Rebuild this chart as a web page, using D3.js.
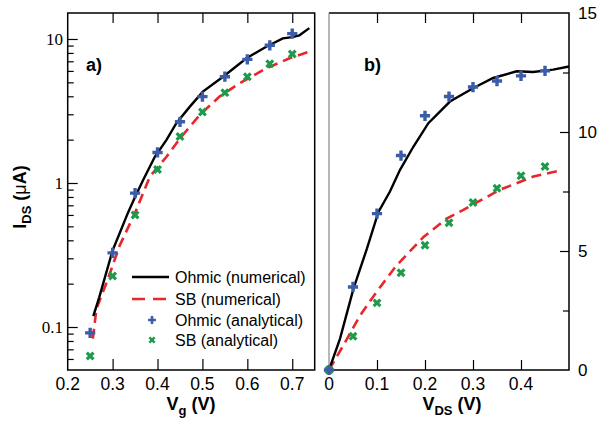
<!DOCTYPE html>
<html lang="en">
<head>
  <meta charset="UTF-8">
  <title>Ohmic vs SB contacts</title>
  <script src="https://d3js.org/d3.v7.min.js"></script>
  <style>
    body { margin: 0; background: #fff; }
    svg { display: block; font-family: Arial, "Liberation Sans", Helvetica, sans-serif; }
    .tick line { stroke: #000; stroke-width: 1.2; }
  </style>
</head>
<body>
  <svg width="602" height="424"></svg>

  <script>
    // ---- panel a: I_DS vs Vg (log scale) ----
    const vgPts = [0.25, 0.30, 0.35, 0.40, 0.45, 0.50, 0.55, 0.60, 0.65, 0.70];
    const ohmicAnaA = [0.091, 0.327, 0.85, 1.63, 2.66, 3.98, 5.47, 7.22, 9.04, 10.9];
    const sbAnaA = [0.063, 0.226, 0.60, 1.24, 2.10, 3.11, 4.24, 5.47, 6.74, 7.87];

    const ohmicNumA = [
      [0.257, 0.119], [0.27, 0.16], [0.30, 0.34], [0.335, 0.63], [0.35, 0.80],
      [0.368, 1.05], [0.394, 1.52], [0.42, 1.99], [0.442, 2.60], [0.472, 3.39],
      [0.501, 4.31], [0.546, 5.47], [0.598, 7.35], [0.642, 8.83], [0.679, 10.1],
      [0.70, 10.3], [0.716, 10.6], [0.738, 11.9]
    ];
    const sbNumA = [
      [0.256, 0.083], [0.264, 0.134], [0.287, 0.205], [0.316, 0.37], [0.35, 0.62],
      [0.383, 1.11], [0.42, 1.52], [0.45, 2.04], [0.494, 2.97], [0.538, 3.98],
      [0.583, 4.93], [0.642, 6.25], [0.694, 7.35], [0.738, 8.17]
    ];

    // ---- panel b: I_DS vs V_DS (linear) ----
    const vdsPts = [0, 0.05, 0.10, 0.15, 0.20, 0.25, 0.30, 0.35, 0.40, 0.45];
    const ohmicAnaB = [0, 3.49, 6.57, 9.01, 10.68, 11.49, 11.89, 12.14, 12.36, 12.57];
    const sbAnaB = [0, 1.42, 2.82, 4.09, 5.24, 6.19, 7.04, 7.64, 8.16, 8.55];

    const ohmicNumB = [
      [0, 0], [0.023, 1.32], [0.051, 3.42], [0.079, 5.10], [0.103, 6.64],
      [0.127, 7.50], [0.148, 8.41], [0.176, 9.39], [0.207, 10.37], [0.252, 11.28],
      [0.301, 11.85], [0.342, 12.27], [0.391, 12.55], [0.425, 12.52], [0.467, 12.62],
      [0.50, 12.75]
    ];
    const sbNumB = [
      [0, 0], [0.030, 1.04], [0.065, 2.30], [0.099, 3.28], [0.141, 4.40],
      [0.197, 5.59], [0.245, 6.36], [0.280, 6.73], [0.356, 7.57], [0.426, 8.13],
      [0.481, 8.38]
    ];

    const legendLabels = ["Ohmic (numerical)", "SB (numerical)", "Ohmic (analytical)", "SB (analytical)"];

    const blue = "#3d5ca8", green = "#1e9a4c", red = "#e8262b";

    const svg = d3.select("svg");

    const yTop = 13, yBot = 370;
    const xA = d3.scaleLinear().domain([0.2, 0.75]).range([67.7, 314.7]);
    const yA = d3.scaleLog().domain([0.0503, 15.15]).range([yBot, yTop]);
    const xB = d3.scaleLinear().domain([0, 0.5]).range([329, 569]);
    const yB = d3.scaleLinear().domain([0, 15]).range([yBot, yTop]);

    const plus = d3.symbol().type(d3.symbolCross).size(58);
    const cross = d3.symbol().type(d3.symbolCross).size(50);

    function dropDomain(g) {
      g.select(".domain").remove();
    }

    // ---------- panel a axes ----------
    svg.append("g")
      .attr("transform", `translate(0,${yBot})`)
      .call(d3.axisBottom(xA).tickValues([0.3, 0.4, 0.5, 0.6, 0.7]).tickSize(-11).tickFormat(""))
      .call(dropDomain);
    svg.append("g")
      .attr("transform", `translate(0,${yTop})`)
      .call(d3.axisTop(xA).tickValues([0.3, 0.4, 0.5, 0.6, 0.7]).tickSize(-10).tickFormat(""))
      .call(dropDomain);
    svg.append("g")
      .selectAll("text")
      .data([0.2, 0.3, 0.4, 0.5, 0.6, 0.7])
      .join("text")
      .attr("x", d => xA(d))
      .attr("y", 390)
      .attr("text-anchor", "middle")
      .attr("font-size", 17.5)
      .text(d => d3.format(".1f")(d));

    const minorA = [];
    [0.01, 0.1, 1, 10].forEach(p => {
      for (let k = 2; k <= 9; k++) {
        const v = p * k;
        if (v > yA.domain()[0] && v < yA.domain()[1]) minorA.push(v);
      }
    });
    svg.append("g")
      .attr("transform", "translate(67.7,0)")
      .call(d3.axisLeft(yA).tickValues(minorA).tickSize(-6).tickFormat(""))
      .call(dropDomain);
    svg.append("g")
      .attr("transform", "translate(67.7,0)")
      .call(d3.axisLeft(yA).tickValues([0.1, 1, 10]).tickSize(-10).tickFormat(""))
      .call(dropDomain);
    svg.append("g")
      .selectAll("text")
      .data([0.1, 1, 10])
      .join("text")
      .attr("x", 63)
      .attr("y", d => yA(d))
      .attr("dy", "0.35em")
      .attr("text-anchor", "end")
      .attr("font-family", "'Liberation Serif', 'Times New Roman', serif")
      .attr("font-size", 17)
      .text(d => d === 0.1 ? "0.1" : d);

    svg.append("rect")
      .attr("x", xA.range()[0]).attr("y", yTop)
      .attr("width", xA.range()[1] - xA.range()[0]).attr("height", yBot - yTop)
      .attr("fill", "none").attr("stroke", "#000").attr("stroke-width", 1.5);

    // ---------- panel b axes ----------
    svg.append("g")
      .attr("transform", `translate(0,${yBot})`)
      .call(d3.axisBottom(xB).tickValues([0.1, 0.2, 0.3, 0.4]).tickSize(-10).tickFormat(""))
      .call(dropDomain);
    svg.append("g")
      .attr("transform", `translate(0,${yTop})`)
      .call(d3.axisTop(xB).tickValues([0.1, 0.2, 0.3, 0.4]).tickSize(-10).tickFormat(""))
      .call(dropDomain);
    svg.append("g")
      .selectAll("text")
      .data([0, 0.1, 0.2, 0.3, 0.4])
      .join("text")
      .attr("x", d => xB(d))
      .attr("y", 390)
      .attr("text-anchor", "middle")
      .attr("font-size", 17.5)
      .text(d => d === 0 ? "0" : d3.format(".1f")(d));

    svg.append("g")
      .attr("transform", "translate(569,0)")
      .call(d3.axisRight(yB).tickValues([2.5, 7.5, 12.5]).tickSize(-6).tickFormat(""))
      .call(dropDomain);
    svg.append("g")
      .attr("transform", "translate(569,0)")
      .call(d3.axisRight(yB).tickValues([5, 10]).tickSize(-9).tickFormat(""))
      .call(dropDomain);
    svg.append("g")
      .selectAll("text")
      .data([0, 5, 10, 15])
      .join("text")
      .attr("x", 578)
      .attr("y", d => yB(d))
      .attr("dy", "0.36em")
      .attr("font-size", 17)
      .text(d => d);

    svg.append("path")
      .attr("d", `M329,${yTop}H569V${yBot}H329`)
      .attr("fill", "none").attr("stroke", "#000").attr("stroke-width", 1.5);
    svg.append("line")
      .attr("x1", 329).attr("x2", 329).attr("y1", yTop).attr("y2", yBot)
      .attr("stroke", "#888").attr("stroke-width", 1.2);

    // ---------- curves ----------
    const lineA = d3.line().x(d => xA(d[0])).y(d => yA(d[1]));
    const lineB = d3.line().x(d => xB(d[0])).y(d => yB(d[1]));

    svg.append("path").datum(sbNumA).attr("d", lineA)
      .attr("fill", "none").attr("stroke", red).attr("stroke-width", 2.6).attr("stroke-dasharray", "10,6");
    svg.append("path").datum(ohmicNumA).attr("d", lineA)
      .attr("fill", "none").attr("stroke", "#000").attr("stroke-width", 2.4);

    svg.append("path").datum(sbNumB).attr("d", lineB)
      .attr("fill", "none").attr("stroke", red).attr("stroke-width", 2.6).attr("stroke-dasharray", "10,6");
    svg.append("path").datum(ohmicNumB).attr("d", lineB)
      .attr("fill", "none").attr("stroke", "#000").attr("stroke-width", 2.4);

    // ---------- markers ----------
    svg.append("g").selectAll("path")
      .data(vgPts.map((v, i) => [v, ohmicAnaA[i]]))
      .join("path")
      .attr("transform", d => `translate(${xA(d[0])},${yA(d[1])})`)
      .attr("d", plus).attr("fill", blue);
    svg.append("g").selectAll("path")
      .data(vgPts.map((v, i) => [v, sbAnaA[i]]))
      .join("path")
      .attr("transform", d => `translate(${xA(d[0])},${yA(d[1])}) rotate(45)`)
      .attr("d", cross).attr("fill", green);

    svg.append("g").selectAll("path")
      .data(vdsPts.map((v, i) => [v, sbAnaB[i]]))
      .join("path")
      .attr("transform", d => `translate(${xB(d[0])},${yB(d[1])}) rotate(45)`)
      .attr("d", cross).attr("fill", green);
    svg.append("g").selectAll("path")
      .data(vdsPts.map((v, i) => [v, ohmicAnaB[i]]))
      .join("path")
      .attr("transform", d => `translate(${xB(d[0])},${yB(d[1])})`)
      .attr("d", plus).attr("fill", blue);

    // ---------- panel labels ----------
    svg.append("text").attr("x", 86).attr("y", 71)
      .attr("font-size", 18).attr("font-weight", "bold").text("a)");
    svg.append("text").attr("x", 364).attr("y", 71)
      .attr("font-size", 18).attr("font-weight", "bold").text("b)");

    // ---------- axis titles ----------
    const vg = svg.append("text").attr("x", 191).attr("y", 410)
      .attr("text-anchor", "middle").attr("font-size", 18).attr("font-weight", "bold");
    vg.append("tspan").text("V");
    vg.append("tspan").attr("font-size", 13).attr("dy", 5).text("g");
    vg.append("tspan").attr("dy", -5).text(" (V)");

    const vds = svg.append("text").attr("x", 452).attr("y", 410)
      .attr("text-anchor", "middle").attr("font-size", 18).attr("font-weight", "bold");
    vds.append("tspan").text("V");
    vds.append("tspan").attr("font-size", 13).attr("dy", 5).text("DS");
    vds.append("tspan").attr("dy", -5).text(" (V)");

    const ids = svg.append("text")
      .attr("transform", "translate(26,197) rotate(-90)")
      .attr("text-anchor", "middle").attr("font-size", 18).attr("font-weight", "bold");
    ids.append("tspan").text("I");
    ids.append("tspan").attr("font-size", 13).attr("dy", 5).text("DS");
    ids.append("tspan").attr("dy", -5).text(" (");
    ids.append("tspan").attr("font-weight", "normal").text("\u03bc");
    ids.append("tspan").text("A)");

    // ---------- legend ----------
    const legY = [277, 299, 320, 340];
    const leg = svg.append("g");
    leg.append("line").attr("x1", 132).attr("x2", 169).attr("y1", legY[0]).attr("y2", legY[0])
      .attr("stroke", "#000").attr("stroke-width", 2.4);
    leg.append("line").attr("x1", 132).attr("x2", 169).attr("y1", legY[1]).attr("y2", legY[1])
      .attr("stroke", red).attr("stroke-width", 2.6).attr("stroke-dasharray", "13,8");
    leg.append("path").attr("transform", `translate(152,${legY[2]})`)
      .attr("d", d3.symbol().type(d3.symbolCross).size(34)).attr("fill", blue);
    leg.append("path").attr("transform", `translate(152,${legY[3]}) rotate(45)`)
      .attr("d", d3.symbol().type(d3.symbolCross).size(30)).attr("fill", green);
    leg.selectAll("text")
      .data(legendLabels)
      .join("text")
      .attr("x", 175)
      .attr("y", (d, i) => legY[i])
      .attr("dy", "0.35em")
      .attr("font-size", 16)
      .text(d => d);
  </script>
</body>
</html>
